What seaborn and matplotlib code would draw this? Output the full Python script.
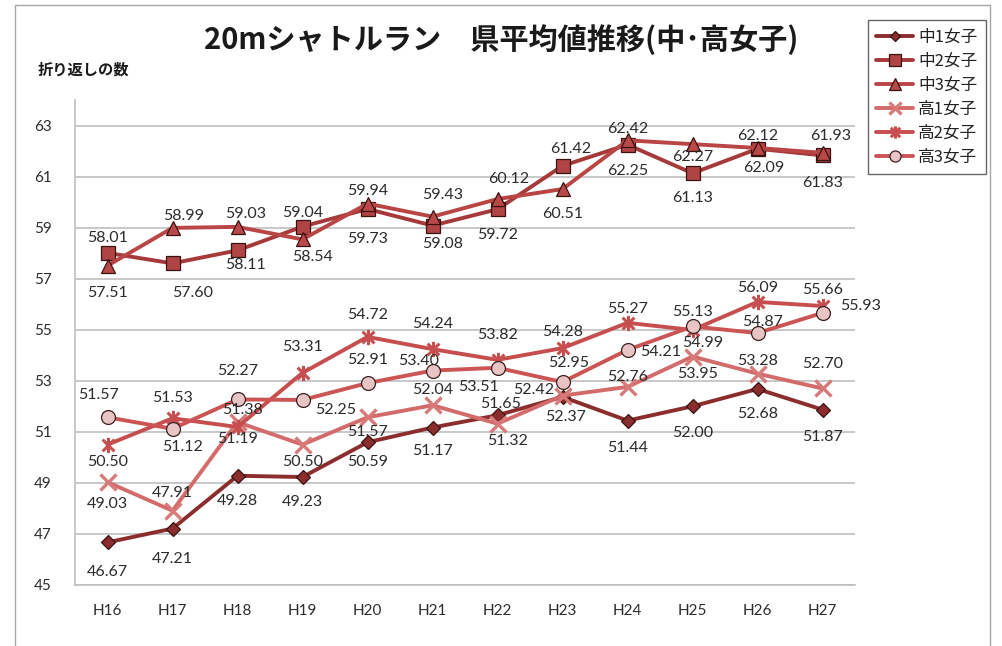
import numpy as np
import pandas as pd
import matplotlib
matplotlib.use("Agg")
import matplotlib.pyplot as plt
from matplotlib.path import Path
from matplotlib.lines import Line2D
from matplotlib.patches import Rectangle
import seaborn as sns

# ---------------- data ----------------
years = ["H16", "H17", "H18", "H19", "H20", "H21", "H22", "H23", "H24", "H25", "H26", "H27"]
series_names = ["中1女子", "中2女子", "中3女子", "高1女子", "高2女子", "高3女子"]
chu1 = [46.67, 47.21, 49.28, 49.23, 50.59, 51.17, 51.65, 52.37, 51.44, 52.00, 52.68, 51.87]
chu2 = [58.01, 57.60, 58.11, 59.04, 59.73, 59.08, 59.72, 61.42, 62.25, 61.13, 62.09, 61.83]
chu3 = [57.51, 58.99, 59.03, 58.54, 59.94, 59.43, 60.12, 60.51, 62.42, 62.27, 62.12, 61.93]
ko1 = [49.03, 47.91, 51.38, 50.50, 51.57, 52.04, 51.32, 52.42, 52.76, 53.95, 53.28, 52.70]
ko2 = [50.50, 51.53, 51.19, 53.31, 54.72, 54.24, 53.82, 54.28, 55.27, 54.99, 56.09, 55.93]
ko3 = [51.57, 51.12, 52.27, 52.25, 52.91, 53.40, 53.51, 52.95, 54.21, 55.13, 54.87, 55.66]
values = [chu1, chu2, chu3, ko1, ko2, ko3]
yticks = [45, 47, 49, 51, 53, 55, 57, 59, 61, 63]

# ---------------- styles ----------------
asterisk = Path([(-1, -1), (1, 1), (-1, 1), (1, -1), (0, -1.3), (0, 1.3)],
                [Path.MOVETO, Path.LINETO, Path.MOVETO, Path.LINETO, Path.MOVETO, Path.LINETO])
line_colors = ["#8C2D2D", "#A63A3A", "#B94545", "#D46B6B", "#C64E4E", "#CC5454"]
marker_face = ["#8C2D2D", "#B04343", "#B94848", "#D87A7A", "#C64E4E", "#E8C4C4"]
marker_edge = ["#3A1212", "#3A1212", "#3A1212", "#D87A7A", "#C64E4E", "#3A2020"]
markers = ["D", "s", "^", "x", asterisk, "o"]
msizes = [7, 10, 10, 11, 11, 10]
mews = [0.9, 0.9, 0.9, 2.4, 2.2, 0.9]

# label offsets in pixels (dx, dy with dy positive = up)
offsets = [
    [(0, -30), (0, -30), (0, -25), (0, -25), (0, -20), (0, -23), (3, 11), (3, -20), (0, -27), (0, -27), (0, -25), (0, -27)],
    [(0, 15), (20, -30), (8, -15), (0, 14), (0, -30), (10, -18), (0, -26), (8, 17), (0, -26), (0, -25), (6, -19), (0, -28)],
    [(0, -27), (11, 12), (8, 13), (10, -18), (0, 13), (10, 22), (11, 20), (0, -25), (0, 11), (0, -13), (0, 12), (8, 17)],
    [(0, -22), (0, 18), (5, 12), (0, -17), (0, -15), (0, 15), (10, -17), (-29, 6), (0, 10), (5, -17), (0, 13), (0, 24)],
    [(0, -17), (0, 20), (0, -12), (0, 26), (0, 22), (0, 25), (0, 25), (0, 16), (0, 14), (10, -13), (0, 14), (38, 0)],
    [(-9, 22), (10, -18), (0, 28), (33, -10), (0, 23), (-14, 10), (-19, -19), (6, 19), (33, -2), (0, 14), (5, 11), (0, 23)],
]

# ---------------- figure ----------------
sns.set_theme(style="white")
plt.rcParams["font.family"] = ["Lato", "Noto Sans CJK JP", "DejaVu Sans"]
W, H = 1002, 646
fig = plt.figure(figsize=(W / 100, H / 100), dpi=100)
fig.patch.set_facecolor("white")
ax = fig.add_axes([75 / W, 1 - 585 / H, (855 - 75) / W, (585 - 100) / H])

x = np.arange(len(years))
for i, name in enumerate(series_names):
    df = pd.DataFrame({"x": x, "y": values[i]})
    sns.lineplot(data=df, x="x", y="y", ax=ax, color=line_colors[i], linewidth=2.8,
                 marker=markers[i], markersize=msizes[i], markerfacecolor=marker_face[i],
                 markeredgecolor=marker_edge[i], markeredgewidth=mews[i], zorder=3 + i,
                 legend=False, estimator=None, sort=False)
    for j, v in enumerate(values[i]):
        dx, dy = offsets[i][j]
        ax.annotate(f"{v:.2f}", (x[j], v), xytext=(dx, dy), textcoords="offset pixels",
                    ha="center", va="center", fontsize=11.5, color="#2B2B2B", zorder=20)

ax.set_xlim(-0.5, len(years) - 0.5)
ax.set_ylim(45, 64)
ax.set_yticks(yticks)
ax.set_yticklabels([str(t) for t in yticks], fontsize=11, color="#2B2B2B")
ax.set_xticks(x)
ax.set_xticklabels(years, fontsize=11, color="#2B2B2B")
ax.tick_params(axis="y", length=0, pad=17)
ax.tick_params(axis="x", length=0, pad=14)
ax.set_xlabel("")
ax.set_ylabel("")
ax.grid(axis="y", color="#BFBFBF", linewidth=1.2)
ax.grid(axis="x", visible=False)
for s in ["top", "right"]:
    ax.spines[s].set_visible(False)
for s in ["left", "bottom"]:
    ax.spines[s].set_color("#BFBFBF")
    ax.spines[s].set_linewidth(1.2)

# title and axis caption
fig.text(501 / W, 1 - 40 / H, "20mシャトルラン　県平均値推移(中･高女子)", ha="center", va="center",
         fontsize=21, fontweight="bold", color="#1A1A1A",
         family=["Noto Sans CJK JP", "DejaVu Sans"])
fig.text(38 / W, 1 - 70 / H, "折り返しの数", ha="left", va="center", fontsize=11,
         fontweight="bold", color="#1A1A1A", family=["Noto Sans CJK JP", "DejaVu Sans"])

# outer border
fig.patches.append(Rectangle((15 / W, -0.01), (990 - 15) / W, 1 - 5 / H + 0.01,
                             transform=fig.transFigure, fill=False, edgecolor="#A6A6A6",
                             linewidth=1.0, zorder=0))

# legend
handles = [Line2D([0], [0], color=line_colors[i], linewidth=2.8, marker=markers[i],
                  markersize=msizes[i] * 0.8, markerfacecolor=marker_face[i],
                  markeredgecolor=marker_edge[i], markeredgewidth=mews[i])
           for i in range(len(series_names))]
leg = fig.legend(handles, series_names, loc="upper left",
                 bbox_to_anchor=(868 / W, 1 - 20 / H), frameon=True, fancybox=False,
                 prop={"family": ["Noto Sans CJK JP", "DejaVu Sans"], "size": 12},
                 handlelength=2.2, handletextpad=0.3, labelspacing=0.42,
                 borderpad=0.5, borderaxespad=0)
leg.get_frame().set_edgecolor("#404040")
leg.get_frame().set_linewidth(1.0)
for t in leg.get_texts():
    t.set_color("#222222")

fig.savefig("out.png", dpi=100, facecolor="white")
